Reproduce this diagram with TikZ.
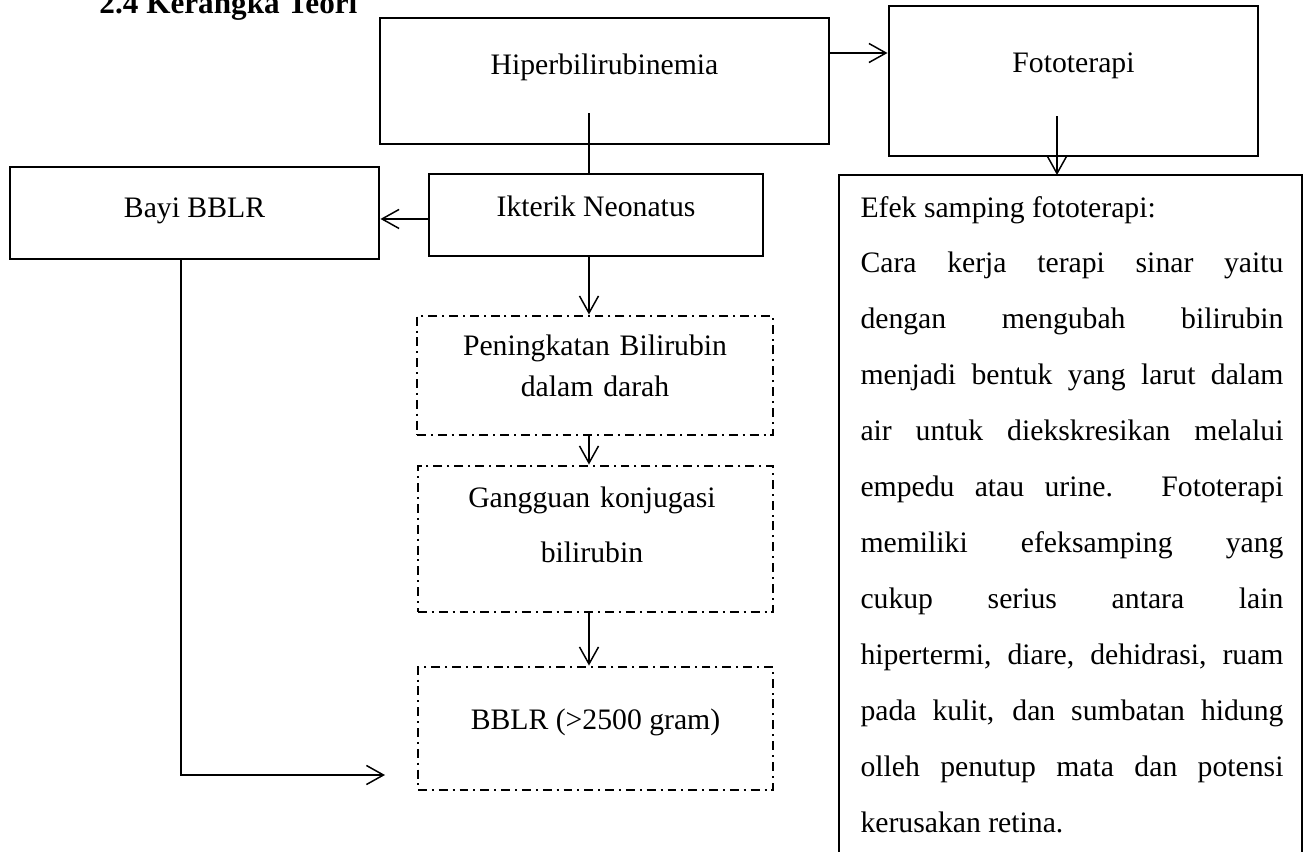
\documentclass[tikz,border=0pt]{standalone}
\usepackage{fontspec}
\setmainfont{Liberation Serif}
\usetikzlibrary{arrows.meta}
\newcommand{\pu}{0.404pt}
\tikzset{
  box/.style={draw, line width=1.2pt, inner sep=0pt},
  dbox/.style={box, dash pattern=on 3.6pt off 2pt on 0.8pt off 2pt},
  txt/.style={anchor=base, inner sep=0pt, align=center},
  arr/.style={-{Straight Barb[length=6.9pt,width=7.7pt]}, line width=0.6pt},
}

\begin{document}
\begin{tikzpicture}[x=\pu, y=-\pu, font=\fontsize{12}{14}\selectfont]
  \useasboundingbox (0,0) rectangle (1312,852);
  \clip (0,0) rectangle (1312,852);
  \node[anchor=base west, inner sep=0pt, font=\fontsize{12.6}{15}\selectfont\bfseries] (judul) at (99,13) {2.4 Kerangka Teori};
  % top row
  \node[box, minimum width=449*\pu, minimum height=126*\pu] (hiper) at (604.5,81) {};
  \node[txt] (hiper-t) at (604.5,74) {Hiperbilirubinemia};
  \node[box, minimum width=369*\pu, minimum height=150*\pu] (foto) at (1073.5,81) {};
  \node[txt] (foto-t) at (1073.5,72) {Fototerapi};
  \coordinate (lvl) at (0,53);
  \draw[arr] (hiper.east |- lvl) -- (foto.west |- lvl);
  % left column
  \node[box, minimum width=369*\pu, minimum height=92*\pu] (bayi) at (194.5,213) {};
  \node[txt] (bayi-t) at (194.5,217) {Bayi BBLR};
  \node[box, minimum width=334*\pu, minimum height=82*\pu] (ikterik) at (596,215) {};
  \node[txt] (ikterik-t) at (596,216) {Ikterik Neonatus};
  \node[dbox, minimum width=356*\pu, minimum height=119*\pu] (pening) at (595,375.5) {};
  \node[txt, text width=300*\pu, font=\fontsize{12}{16.8}\selectfont] (pening-t) at (595,355) {Peningkatan Bilirubin\\dalam darah};
  \node[dbox, minimum width=355*\pu, minimum height=146*\pu] (ganggu) at (595.5,539) {};
  \node[txt, text width=300*\pu, font=\fontsize{12}{22.6}\selectfont] (ganggu-t) at (592,507) {Gangguan konjugasi\\bilirubin};
  \node[dbox, minimum width=355*\pu, minimum height=123*\pu] (bblr) at (595.5,728.5) {};
  \node[txt] (bblr-t) at (595.5,729) {BBLR (>2500 gram)};
  \coordinate (spine) at (589,113);
  \draw[line width=0.6pt] (spine) -- (spine |- ikterik.north);
  \draw[arr] (spine |- ikterik.south) -- (spine |- pening.north);
  \draw[arr] (spine |- pening.south) -- (spine |- ganggu.north);
  \draw[arr] (spine |- ganggu.south) -- (spine |- bblr.north);
  \draw[arr] ([yshift=-1.6pt]ikterik.west) -- ([yshift=-1.6pt]ikterik.west -| bayi.east);
  \coordinate (bayidown) at (181,0);
  \coordinate (bblrin) at (385,775);
  \draw[arr] (bayidown |- bayi.south) |- (bblrin);
  % right column
  \coordinate (efeknw) at (839,175);
  \coordinate (efekne) at (1302,175);
  \draw[line width=1.2pt] (efeknw |- 0,900) -- (efeknw) -- (efekne) -- (efekne |- 0,900);
  \coordinate (fotodown) at (1057,116);
  \draw[arr] (fotodown) -- (fotodown |- efeknw);
  \node[anchor=base west, inner sep=0pt, text width=423*\pu, align=justify,
        font=\fontsize{12}{22.6}\selectfont] (efek) at (860,217)
    {\tolerance=10000 \hyphenpenalty=10000
     Efek samping fototerapi:\\
     Cara kerja terapi sinar yaitu\linebreak
     dengan mengubah bilirubin\linebreak
     menjadi bentuk yang larut dalam\linebreak
     air untuk diekskresikan melalui\linebreak
     empedu atau urine. Fototerapi\linebreak
     memiliki efeksamping yang\linebreak
     cukup serius antara lain\linebreak
     hipertermi, diare, dehidrasi, ruam\linebreak
     pada kulit, dan sumbatan hidung\linebreak
     olleh penutup mata dan potensi\linebreak
     kerusakan retina.};
\end{tikzpicture}
\end{document}
